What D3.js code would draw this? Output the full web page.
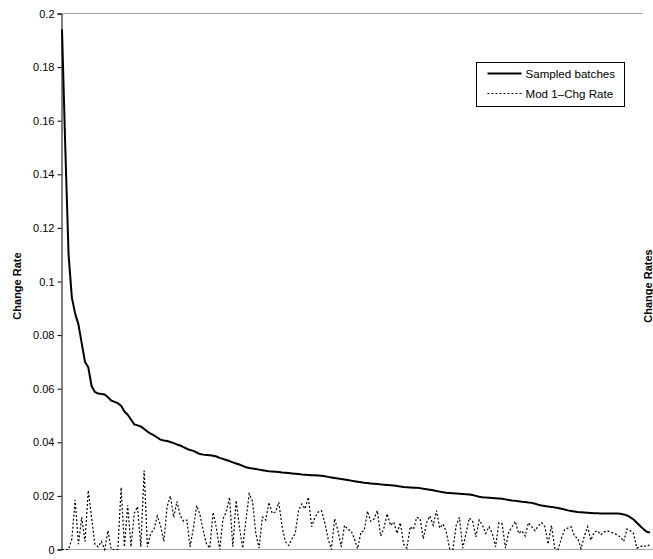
<!DOCTYPE html>
<html>
<head>
<meta charset="utf-8">
<script src="https://cdn.jsdelivr.net/npm/d3@7"></script>
<style>
  body { margin: 0; background: #fff; }
  svg { display: block; font-family: Arial, "Liberation Sans", sans-serif; }
</style>
</head>
<body>
<svg id="chart-svg" width="653" height="559"></svg>
<script>
// sampled batches, sorted descending
const sampled = [
  0.194, 0.150, 0.110, 0.094, 0.088, 0.084, 0.077, 0.070, 0.068, 0.061,
  0.0588, 0.0582, 0.0580, 0.0578, 0.0568, 0.0556, 0.0551, 0.0546, 0.0536, 0.0515,
  0.0503, 0.0485, 0.0467, 0.0463, 0.0459, 0.0450, 0.0440, 0.0432, 0.0426, 0.0418,
  0.0410, 0.0407, 0.0405, 0.0401, 0.0397, 0.0392, 0.0388, 0.0382, 0.0376, 0.0371,
  0.0368, 0.0362, 0.0356, 0.0354, 0.0353, 0.0352, 0.0350, 0.0347, 0.0342, 0.0338,
  0.0334, 0.0330, 0.0325, 0.0321, 0.0317, 0.0312, 0.0307, 0.0304, 0.0302, 0.0300,
  0.0298, 0.0296, 0.0294, 0.0292, 0.0291, 0.0290, 0.0289, 0.0287, 0.0286, 0.0285,
  0.0284, 0.0283, 0.0282, 0.0280, 0.0279, 0.0278, 0.0277, 0.0277, 0.0276, 0.0275,
  0.0273, 0.0271, 0.0269, 0.0267, 0.0265, 0.0263, 0.0261, 0.0259, 0.0257, 0.0255,
  0.0253, 0.0251, 0.0249, 0.0248, 0.0246, 0.0245, 0.0244, 0.0243, 0.0242, 0.0241,
  0.0240, 0.0239, 0.0237, 0.0235, 0.0233, 0.0232, 0.0231, 0.0230, 0.0230, 0.0229,
  0.0227, 0.0225, 0.0223, 0.0221, 0.0218, 0.0216, 0.0214, 0.0212, 0.0211, 0.0210,
  0.0209, 0.0208, 0.0207, 0.0206, 0.0205, 0.0203, 0.0200, 0.0197, 0.0195, 0.0194,
  0.0193, 0.0192, 0.0191, 0.0190, 0.0189, 0.0187, 0.0185, 0.0183, 0.0182, 0.0180,
  0.0178, 0.0177, 0.0175, 0.0174, 0.0171, 0.0167, 0.0164, 0.0162, 0.0160, 0.0159,
  0.0157, 0.0155, 0.0152, 0.0149, 0.0146, 0.0144, 0.0142, 0.0140, 0.0139, 0.0138,
  0.0137, 0.0136, 0.0135, 0.0135, 0.0134, 0.0134, 0.0134, 0.0134, 0.0134, 0.0134,
  0.0133, 0.0131, 0.0127, 0.0120, 0.0112, 0.0100, 0.0088, 0.0076, 0.0066, 0.0063
];

// model change rate per batch
const modRate = [
  0, 0, 0, 0.004, 0.0185, 0.002, 0.012, 0.003, 0.022, 0.012,
  0.002, 0.001, 0.003, 0, 0.007, 0, 0, 0, 0.0232, 0.001,
  0.0165, 0.001, 0.0135, 0.016, 0.001, 0.0295, 0.001, 0.006, 0.0075, 0.0125,
  0.009, 0.003, 0.016, 0.020, 0.012, 0.018, 0.0126, 0.0105, 0.011, 0.001,
  0.008, 0.0164, 0.013, 0.007, 0.002, 0.0005, 0.0139, 0.008, 0, 0.0114,
  0.014, 0.0195, 0.001, 0.0183, 0.0085, 0.0005, 0.011, 0.0208, 0.018, 0.006,
  0.0005, 0.0121, 0.011, 0.0176, 0.0135, 0.014, 0.0176, 0.0085, 0.003, 0.0015,
  0.004, 0.006, 0.0145, 0.017, 0.0152, 0.0195, 0.0085, 0.012, 0.014, 0.0145,
  0.010, 0.004, 0, 0.0115, 0.007, 0.001, 0.009, 0.0075, 0.007, 0.004,
  0.0003, 0.0065, 0.007, 0.0143, 0.0105, 0.0114, 0.0145, 0.005, 0.008, 0.0133,
  0.009, 0.0102, 0.006, 0.010, 0.002, 0.0005, 0.0085, 0.0075, 0.012, 0.0115,
  0.004, 0.010, 0.0125, 0.009, 0.0145, 0.008, 0.0095, 0.0065, 0.0003, 0,
  0.009, 0.012, 0.0005, 0.006, 0.0118, 0.0105, 0.0047, 0.011, 0.009, 0.006,
  0.0085, 0.006, 0.001, 0.010, 0.0095, 0.0005, 0.0065, 0.0085, 0.0105, 0.006,
  0.007, 0.005, 0.010, 0.0085, 0.007, 0.0088, 0.0100, 0.0085, 0.002, 0.009,
  0.0005, 0, 0.004, 0.0075, 0.008, 0.0085, 0.005, 0.0042, 0.0003, 0.005,
  0.0085, 0.0035, 0.0065, 0.007, 0.0055, 0.0065, 0.007, 0.0065, 0.006, 0.0055,
  0.0047, 0.003, 0.0077, 0.007, 0.006, 0.0005, 0.001, 0.0015, 0.001, 0.002
];

const yTicks = [0, 0.02, 0.04, 0.06, 0.08, 0.1, 0.12, 0.14, 0.16, 0.18, 0.2];
const seriesNames = ["Sampled batches", "Mod 1\u2013Chg Rate"];

const svg = d3.select("#chart-svg");
const plot = { left: 62, right: 650, top: 13.5, bottom: 549.5 };

const x = d3.scaleLinear()
    .domain([0, sampled.length - 1])
    .range([plot.left, plot.right]);

const y = d3.scaleLinear()
    .domain([0, 0.2])
    .range([plot.bottom, plot.top]);

// grey top border and bottom axis line
svg.append("line")
    .attr("x1", plot.left).attr("x2", 643)
    .attr("y1", plot.top).attr("y2", plot.top)
    .attr("stroke", "#a6a6a6");
svg.append("line")
    .attr("x1", plot.left).attr("x2", 653)
    .attr("y1", plot.bottom).attr("y2", plot.bottom)
    .attr("stroke", "#a6a6a6");

// series
const line = d3.line()
    .x((d, i) => x(i))
    .y(d => y(d));

svg.append("path")
    .datum(modRate)
    .attr("fill", "none")
    .attr("stroke", "#000")
    .attr("stroke-width", 1.2)
    .attr("stroke-dasharray", "2,2")
    .attr("d", line);

svg.append("path")
    .datum(sampled)
    .attr("fill", "none")
    .attr("stroke", "#000")
    .attr("stroke-width", 2)
    .attr("stroke-linejoin", "round")
    .attr("d", line);

// Y axis
const yAxis = svg.append("g")
    .attr("transform", `translate(${plot.left - 0.5}, 0)`)
    .call(d3.axisLeft(y).tickValues(yTicks).tickSize(4).tickPadding(3)
        .tickFormat(d => d === 0 ? "0" : String(+d.toFixed(2))));
yAxis.select(".domain").attr("stroke", "#000");
yAxis.selectAll(".tick line").attr("stroke", "#000");
yAxis.selectAll("text")
    .attr("font-size", 11)
    .attr("font-family", "Arial, 'Liberation Sans', sans-serif")
    .attr("fill", "#000");

// axis titles
svg.append("text")
    .attr("transform", "translate(21, 286) rotate(-90)")
    .attr("text-anchor", "middle")
    .attr("font-size", 11)
    .attr("font-weight", "bold")
    .text("Change Rate");

svg.append("text")
    .attr("transform", "translate(652, 286) rotate(-90)")
    .attr("text-anchor", "middle")
    .attr("font-size", 11)
    .attr("font-weight", "bold")
    .text("Change Rates");

// legend
const legend = svg.append("g").attr("transform", "translate(476.5, 62.5)");
legend.append("rect")
    .attr("width", 148).attr("height", 44)
    .attr("fill", "#fff")
    .attr("stroke", "#000");

seriesNames.forEach((name, i) => {
    const ly = 11 + i * 20;
    legend.append("line")
        .attr("x1", 11).attr("x2", 45)
        .attr("y1", ly).attr("y2", ly)
        .attr("stroke", "#000")
        .attr("stroke-width", i === 0 ? 2 : 1)
        .attr("stroke-dasharray", i === 0 ? null : "2,2");
    legend.append("text")
        .attr("x", 49).attr("y", ly + 4)
        .attr("font-size", 11.6)
        .text(name);
});
</script>
</body>
</html>
